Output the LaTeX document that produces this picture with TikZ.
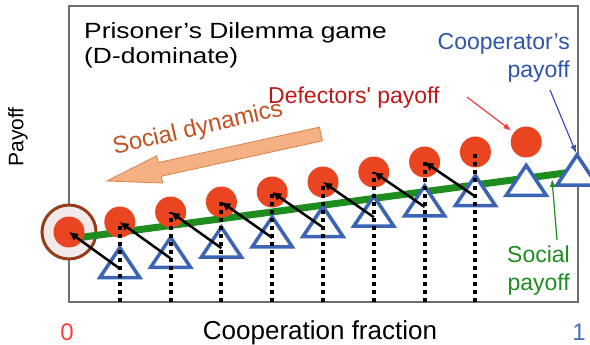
\documentclass[tikz,border=0pt]{standalone}
\usepackage{fontspec}
\setmainfont{Liberation Sans}
\usepackage{graphicx}
\usetikzlibrary{arrows.meta}

\definecolor{defred}{RGB}{233,69,33}
\definecolor{deftext}{RGB}{190,25,25}
\definecolor{defpoint}{RGB}{240,60,60}
\definecolor{coopblue}{RGB}{59,100,180}
\definecolor{cooptext}{RGB}{47,85,170}
\definecolor{cooppoint}{RGB}{60,80,180}
\definecolor{socgreen}{RGB}{30,140,30}
\definecolor{dynfill}{RGB}{244,177,131}
\definecolor{dyndraw}{RGB}{222,128,70}
\definecolor{dyntext}{RGB}{192,82,35}
\definecolor{ringbrown}{RGB}{150,60,25}
\definecolor{ringfill}{RGB}{243,232,234}
\definecolor{framegray}{RGB}{110,110,110}
\definecolor{zerored}{RGB}{255,60,60}
\definecolor{oneblue}{RGB}{70,110,190}

\newcommand{\wide}[1]{\scalebox{1.2}[1]{#1}}

\tikzset{
    defector/.style={circle, fill=defred, minimum size=31pt, inner sep=0pt},
    coop/.style={draw=coopblue, line width=3.5pt, fill=white, line join=miter},
    move/.style={line width=2.5pt, -{Latex[length=9pt,width=9pt]}},
    drop/.style={line width=4pt, dash pattern=on 4pt off 4pt},
    pointer/.style={line width=1.2pt, -{Latex[length=8pt,width=6pt]}},
    note/.style={inner sep=0pt, font=\fontsize{23}{28}\selectfont}
}

\begin{document}
\begin{tikzpicture}[x=1pt, y=-1pt]
        \useasboundingbox (0,0) rectangle (590,345);

        % Frame and axis labels
        \draw [framegray, line width=1.2pt] (69,6) rectangle (578,302);
        \node [rotate=90, font=\fontsize{21}{25}\selectfont] (ylab) at (18,137) {Payoff};
        \node [anchor=base, font=\fontsize{26}{30}\selectfont] (xlab) at (320,339) {Cooperation fraction};
        \node [anchor=base, text=zerored, font=\fontsize{24}{28}\selectfont] (zero) at (67,340) {0};
        \node [anchor=base, text=oneblue, font=\fontsize{24}{28}\selectfont] (one) at (579,340) {1};

        % Title
        \node [anchor=north west, align=left, inner sep=0pt, font=\fontsize{22}{25}\selectfont] (title) at (84,22)
            {\wide{Prisoner’s Dilemma game}\\\wide{(D-dominate)}};

        % Social dynamics
        \begin{scope}[shift={(107,181)}, rotate=12.4]
            \draw [fill=dynfill, draw=dyndraw, line width=0.8pt]
                (0,0) -- (54,-14) -- (54,-7) -- (219,-7) -- (219,7) -- (54,7) -- (54,14) -- cycle;
        \end{scope}
        \node [rotate=13, text=dyntext, font=\fontsize{24}{28}\selectfont] (dyn) at (198,129) {Social dynamics};

        % Fixed point at x = 0
        \draw [ringbrown, fill=ringfill, line width=3pt] (69,232) circle [radius=27pt];

        % Social payoff
        \draw [socgreen, line width=7pt] (69,239) -- (580,171);

        % Cooperators
        \foreach \i in {1,...,10} {
            \pgfmathsetmacro{\xx}{69+50.8*\i}
            \pgfmathsetmacro{\ya}{258-10.3*\i}
            \draw [coop] (\xx,\ya) -- ++(20,30) -- ++(-40,0) -- cycle;
            \coordinate (c\i) at (\xx,\ya+21);
            \coordinate (t\i) at (\xx,\ya);
            \coordinate (b\i) at (\xx,302);
        }

        % Defectors
        \foreach \i in {0,...,9}
            \node [defector] (d\i) at ({69+50.8*\i},{232-10*\i}) {};

        \foreach \i in {1,...,8}
            \draw [drop] (b\i) -- (d\i.center);

        \foreach \i [evaluate=\i as \j using int(\i-1)] in {1,...,8}
            \draw [move] (c\i) -- (d\j.center);

        % Labels
        \node [note, anchor=base west, text=deftext] (deflab) at (268,103) {Defectors\textquotesingle{} payoff};
        \node [note, anchor=north east, align=right, text=cooptext] (cooplab) at (570,33) {Cooperator’s\\payoff};
        \node [note, anchor=north east, align=right, text=socgreen] (soclab) at (570,246) {Social\\payoff};

        \coordinate (dtail) at (467,97);
        \coordinate (ctail) at (550,90);
        \coordinate (stail) at (557,240);
        \coordinate (shead) at (552,179);
        \draw [pointer, defpoint, shorten >=3pt] (dtail) -- (d9);
        \draw [pointer, cooppoint, shorten >=2pt] (ctail) -- (t10);
        \draw [pointer, socgreen] (stail) -- (shead);
\end{tikzpicture}
\end{document}
